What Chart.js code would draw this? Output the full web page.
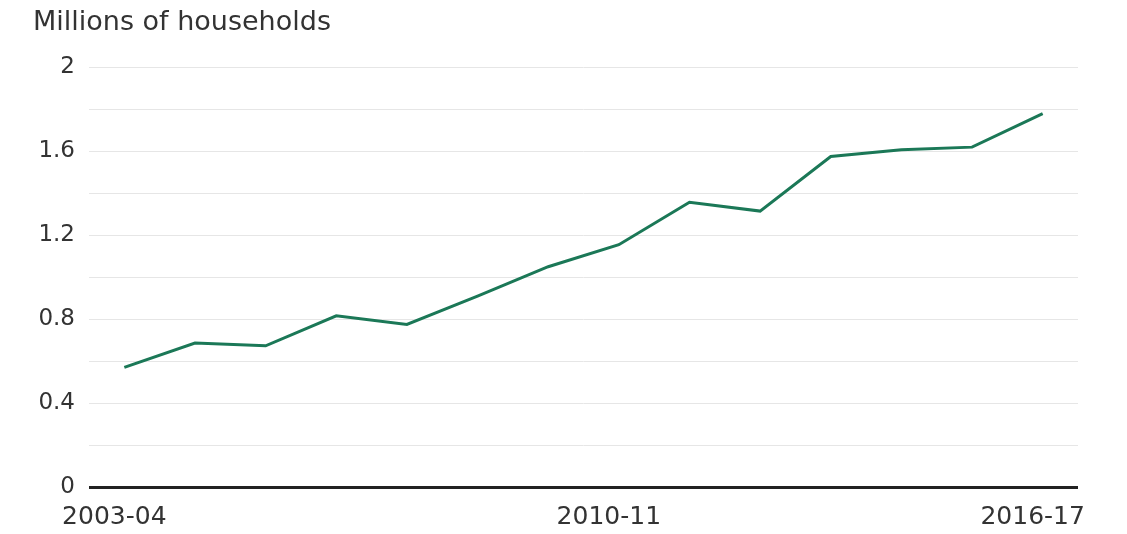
<!DOCTYPE html>
<html>
<head>
<meta charset="utf-8">
<script src="https://cdn.jsdelivr.net/npm/chart.js@4/dist/chart.umd.min.js"></script>
<style>
  html, body { margin: 0; padding: 0; background: #ffffff; }
  #wrap { position: relative; width: 1127px; height: 534px; }
</style>
</head>
<body>
<div id="wrap"><canvas id="c" width="1127" height="534"></canvas></div>
<script>
const categories = ['2003-04','2004-05','2005-06','2006-07','2007-08','2008-09','2009-10','2010-11','2011-12','2012-13','2013-14','2014-15','2015-16','2016-17'];
const households = [0.57, 0.686, 0.673, 0.816, 0.775, 0.91, 1.05, 1.155, 1.357, 1.315, 1.575, 1.607, 1.62, 1.78];
const shownXLabels = ['2003-04', '2010-11', '2016-17'];
const yLabelTicks = [0, 0.4, 0.8, 1.2, 1.6, 2];
const titleText = 'Millions of households';

const FONT = '"DejaVu Sans", "Liberation Sans", Arial, sans-serif';
const TEXT = '#333333';

new Chart(document.getElementById('c'), {
  type: 'line',
  data: {
    labels: categories,
    datasets: [{
      data: households,
      borderColor: '#1b7857',
      borderWidth: 3,
      pointRadius: 0,
      tension: 0,
      fill: false
    }]
  },
  options: {
    responsive: false,
    animation: false,
    layout: { padding: { left: 33, right: 49, top: 7, bottom: 2 } },
    plugins: {
      legend: { display: false },
      tooltip: { enabled: false },
      title: {
        display: true,
        text: titleText,
        align: 'start',
        color: TEXT,
        font: { family: FONT, size: 27, weight: 'normal', lineHeight: 1.2 },
        padding: { top: 0, bottom: 28 }
      }
    },
    scales: {
      x: {
        offset: true,
        afterFit: function(scale) { scale.height = 45; },
        grid: { display: false, drawTicks: false },
        border: { display: false },
        ticks: {
          autoSkip: false,
          maxRotation: 0,
          padding: 15,
          labelOffset: -10,
          color: TEXT,
          font: { family: FONT, size: 25, lineHeight: 1.2 },
          callback: function(v, i) {
            const lab = categories[i];
            return shownXLabels.includes(lab) ? lab : '';
          }
        }
      },
      y: {
        min: 0,
        max: 2,
        afterFit: function(scale) { scale.width = 56; },
        grid: {
          drawTicks: false,
          color: ctx => (ctx.tick && ctx.tick.value === 0) ? '#222222' : '#e6e6e6',
          lineWidth: ctx => (ctx.tick && ctx.tick.value === 0) ? 3 : 1
        },
        border: { display: false },
        ticks: {
          stepSize: 0.2,
          padding: 14,
          color: TEXT,
          font: { family: FONT, size: 23, lineHeight: 1.2 },
          callback: function(v) {
            const r = Math.round(v * 10) / 10;
            const hit = yLabelTicks.find(t => Math.abs(t - r) < 1e-6);
            return hit === undefined ? '' : String(hit);
          }
        }
      }
    }
  }
});
</script>
</body>
</html>
